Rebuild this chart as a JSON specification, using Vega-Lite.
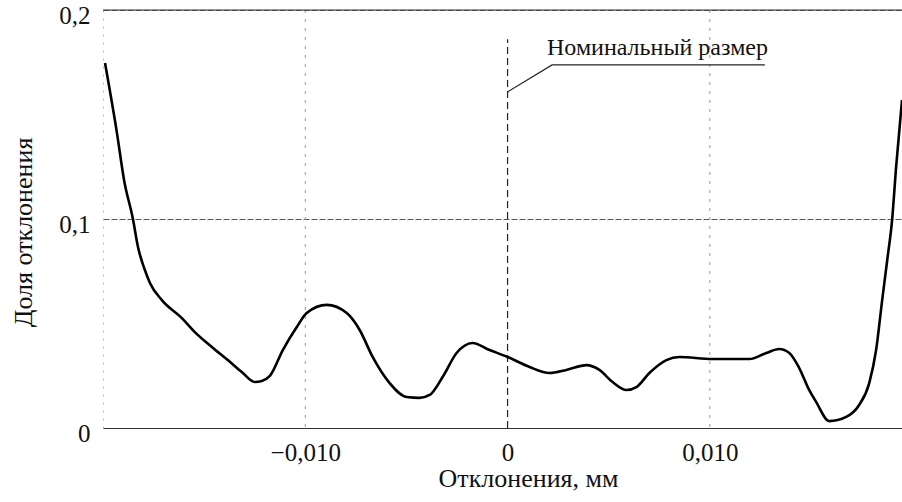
{
  "$schema": "https://vega.github.io/schema/vega-lite/v6.json",
  "width": 799,
  "height": 418,
  "autosize": {"type": "none"},
  "padding": {"left": 103, "top": 10, "right": 0, "bottom": 74},
  "background": "white",
  "config": {"view": {"stroke": null}, "font": "'Liberation Serif', 'Times New Roman', 'DejaVu Serif', serif"},
  "datasets": {
    "curve": [
      {"x": -0.01990, "y": 0.1746},
      {"x": -0.01931, "y": 0.1411},
      {"x": -0.01896, "y": 0.1187},
      {"x": -0.01852, "y": 0.1000},
      {"x": -0.01827, "y": 0.0866},
      {"x": -0.01793, "y": 0.0756},
      {"x": -0.01768, "y": 0.0694},
      {"x": -0.01709, "y": 0.0612},
      {"x": -0.01610, "y": 0.0526},
      {"x": -0.01546, "y": 0.0459},
      {"x": -0.01462, "y": 0.0388},
      {"x": -0.01383, "y": 0.0325},
      {"x": -0.01314, "y": 0.0268},
      {"x": -0.01249, "y": 0.0220},
      {"x": -0.01215, "y": 0.0225},
      {"x": -0.01175, "y": 0.0249},
      {"x": -0.01111, "y": 0.0373},
      {"x": -0.01042, "y": 0.0483},
      {"x": -0.00993, "y": 0.0550},
      {"x": -0.00894, "y": 0.0589},
      {"x": -0.00795, "y": 0.0550},
      {"x": -0.00731, "y": 0.0469},
      {"x": -0.00667, "y": 0.0340},
      {"x": -0.00583, "y": 0.0215},
      {"x": -0.00499, "y": 0.0148},
      {"x": -0.00435, "y": 0.0144},
      {"x": -0.00385, "y": 0.0158},
      {"x": -0.00321, "y": 0.0244},
      {"x": -0.00252, "y": 0.0359},
      {"x": -0.00173, "y": 0.0407},
      {"x": -0.00089, "y": 0.0373},
      {"x": 0.00000, "y": 0.0340},
      {"x": 0.00109, "y": 0.0292},
      {"x": 0.00207, "y": 0.0263},
      {"x": 0.00291, "y": 0.0278},
      {"x": 0.00390, "y": 0.0301},
      {"x": 0.00454, "y": 0.0278},
      {"x": 0.00519, "y": 0.0220},
      {"x": 0.00588, "y": 0.0182},
      {"x": 0.00637, "y": 0.0196},
      {"x": 0.00701, "y": 0.0263},
      {"x": 0.00785, "y": 0.0325},
      {"x": 0.00849, "y": 0.0340},
      {"x": 0.01012, "y": 0.0330},
      {"x": 0.01195, "y": 0.0330},
      {"x": 0.01279, "y": 0.0359},
      {"x": 0.01343, "y": 0.0378},
      {"x": 0.01393, "y": 0.0359},
      {"x": 0.01442, "y": 0.0287},
      {"x": 0.01491, "y": 0.0182},
      {"x": 0.01526, "y": 0.0124},
      {"x": 0.01590, "y": 0.0033},
      {"x": 0.01674, "y": 0.0053},
      {"x": 0.01738, "y": 0.0110},
      {"x": 0.01788, "y": 0.0215},
      {"x": 0.01822, "y": 0.0373},
      {"x": 0.01852, "y": 0.0612},
      {"x": 0.01877, "y": 0.0804},
      {"x": 0.01901, "y": 0.0995},
      {"x": 0.01921, "y": 0.1249},
      {"x": 0.01950, "y": 0.1569}
    ],
    "vgrid": [{"x": -0.01}, {"x": 0.01}],
    "topline": [{"y": 0.2}],
    "zeroline": [{"x": 0, "y": 0, "y2": 0.186}],
    "leader": [
      {"x": 0, "y": 0.1608, "o": 1},
      {"x": 0.0022, "y": 0.1737, "o": 2},
      {"x": 0.01272, "y": 0.1737, "o": 3}
    ],
    "label": [{"x": 0.00195, "y": 0.1785, "t": "Номинальный размер"}]
  },
  "layer": [
    {
      "data": {"name": "vgrid"},
      "mark": {"type": "rule", "color": "#999", "strokeDash": [3, 6], "strokeWidth": 1},
      "encoding": {"x": {"field": "x", "type": "quantitative", "scale": {"domain": [-0.02, 0.0195], "nice": false, "zero": false}}}
    },
    {
      "data": {"name": "topline"},
      "mark": {"type": "rule", "color": "#333", "strokeWidth": 1},
      "encoding": {"y": {"field": "y", "type": "quantitative"}}
    },
    {
      "data": {"name": "zeroline"},
      "mark": {"type": "rule", "color": "#222", "strokeDash": [7, 4], "strokeWidth": 1.2},
      "encoding": {
        "x": {"field": "x", "type": "quantitative"},
        "y": {"field": "y", "type": "quantitative"},
        "y2": {"field": "y2"}
      }
    },
    {
      "data": {"name": "leader"},
      "mark": {"type": "line", "color": "#222", "strokeWidth": 1.2},
      "encoding": {
        "x": {"field": "x", "type": "quantitative"},
        "y": {"field": "y", "type": "quantitative"},
        "order": {"field": "o"}
      }
    },
    {
      "data": {"name": "label"},
      "mark": {"type": "text", "align": "left", "baseline": "alphabetic", "font": "Liberation Serif", "fontSize": 24, "color": "#111"},
      "encoding": {
        "x": {"field": "x", "type": "quantitative"},
        "y": {"field": "y", "type": "quantitative"},
        "text": {"field": "t"}
      }
    },
    {
      "data": {"name": "curve"},
      "mark": {"type": "line", "color": "#000", "strokeWidth": 2.6, "interpolate": "monotone", "clip": true},
      "encoding": {
        "x": {
          "field": "x", "type": "quantitative",
          "scale": {"domain": [-0.02, 0.0195], "nice": false, "zero": false},
          "axis": {
            "values": [-0.01, 0, 0.01],
            "labelExpr": "datum.value == 0 ? '0' : replace(format(datum.value, '.3f'), '.', ',')",
            "labelFont": "Liberation Serif", "labelFontSize": 25, "labelColor": "#111",
            "labelPadding": 12, "ticks": false, "grid": false,
            "domain": true, "domainColor": "#333", "domainWidth": 1,
            "title": "Отклонения, мм", "titleFont": "Liberation Serif", "titleFontSize": 26,
            "titleFontWeight": "normal", "titleColor": "#111",
            "titleX": 425, "titleY": 50, "titleAlign": "center", "titleBaseline": "middle"
          }
        },
        "y": {
          "field": "y", "type": "quantitative",
          "scale": {"domain": [0, 0.2], "nice": false, "zero": true},
          "axis": {
            "values": [0, 0.1, 0.2],
            "labelExpr": "datum.value == 0 ? '0' : replace(format(datum.value, '.1f'), '.', ',')",
            "labelFont": "Liberation Serif", "labelFontSize": 25, "labelColor": "#111",
            "labelPadding": 13, "labelOffset": 5, "labelBaseline": "middle", "ticks": false,
            "grid": true, "gridColor": "#555", "gridDash": [6, 2], "gridWidth": 1,
            "domain": true, "domainColor": "#bbb", "domainDash": [2, 6],
            "title": "Доля отклонения", "titleFont": "Liberation Serif", "titleFontSize": 26,
            "titleFontWeight": "normal", "titleColor": "#111",
            "titleX": -80, "titleY": 222, "titleAlign": "center", "titleBaseline": "middle"
          }
        }
      }
    }
  ]
}
